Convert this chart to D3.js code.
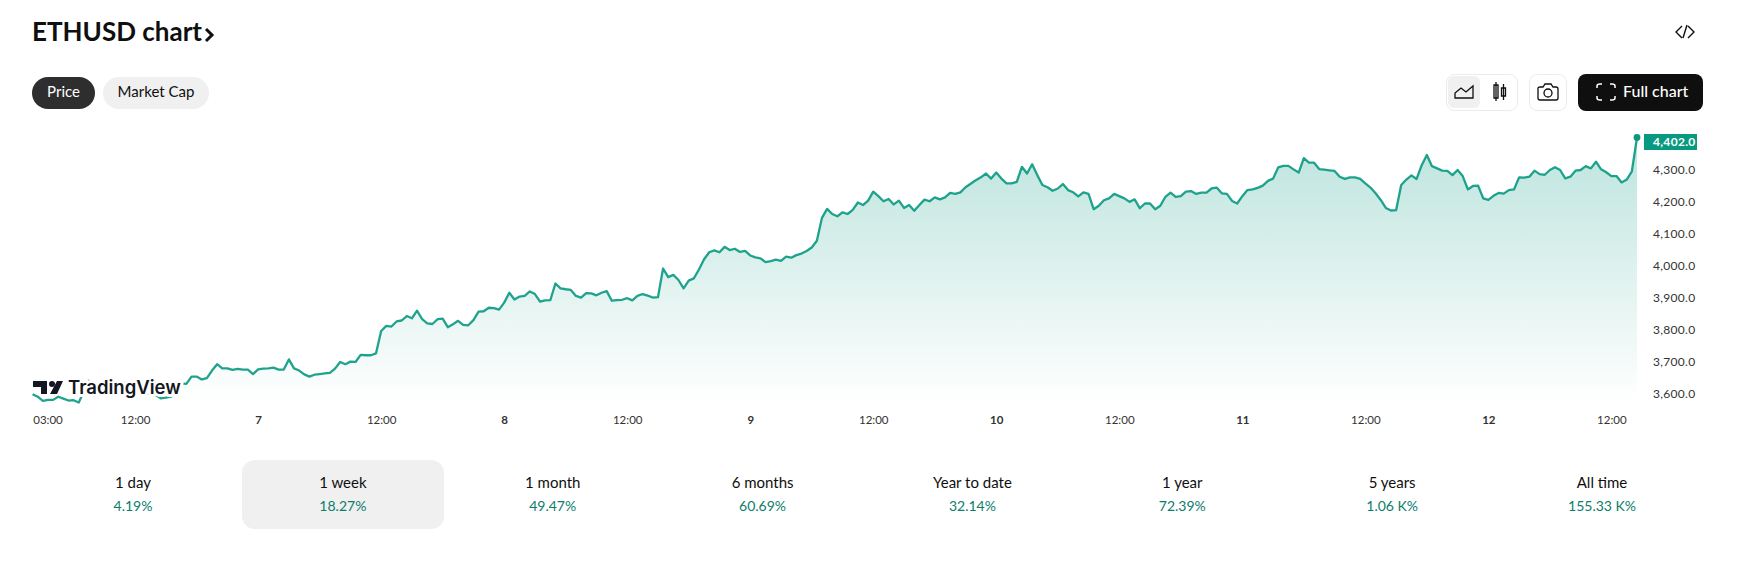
<!DOCTYPE html>
<html>
<head>
<meta charset="utf-8">
<script src="https://cdn.jsdelivr.net/npm/d3@7"></script>
<style>
  html, body { margin: 0; padding: 0; background: #fff; overflow: hidden; }
  svg { display: block; font-family: "Lato", sans-serif; }
</style>
</head>
<body>
<div id="chart"></div>
<script>
// half hour closes, first one is 6th 02:00
const prices = [
  3597, 3589, 3576, 3579, 3579, 3589, 3583, 3577, 3578, 3571,
  3605, 3639, 3629, 3622, 3625, 3618, 3621, 3616, 3632, 3622,
  3610, 3605, 3600, 3596, 3594, 3584, 3586, 3589, 3610, 3631,
  3629, 3652, 3652, 3643, 3647, 3671, 3691, 3678, 3678, 3673,
  3676, 3674, 3674, 3660, 3675, 3677, 3678, 3680, 3674, 3674,
  3706, 3678, 3671, 3659, 3652, 3658, 3660, 3662, 3664, 3677,
  3698, 3691, 3699, 3698, 3720, 3719, 3719, 3725, 3795, 3811,
  3809, 3825, 3828, 3842, 3835, 3859, 3832, 3819, 3817, 3832,
  3834, 3807, 3816, 3827, 3814, 3813, 3829, 3856, 3857, 3868,
  3867, 3862, 3884, 3915, 3894, 3903, 3905, 3919, 3911, 3887,
  3891, 3892, 3944, 3929, 3926, 3924, 3905, 3900, 3914, 3913,
  3907, 3915, 3920, 3890, 3892, 3893, 3898, 3891, 3905, 3911,
  3906, 3900, 3901, 3991, 3964, 3971, 3955, 3929, 3953, 3960,
  3988, 4020, 4042, 4048, 4042, 4059, 4049, 4053, 4043, 4046,
  4032, 4026, 4023, 4011, 4014, 4019, 4015, 4028, 4025, 4033,
  4038, 4046, 4057, 4078, 4150, 4178, 4162, 4155, 4167, 4162,
  4175, 4198, 4190, 4204, 4232, 4218, 4202, 4209, 4192, 4204,
  4181, 4190, 4172, 4190, 4207, 4202, 4214, 4208, 4214, 4228,
  4225, 4230, 4246, 4257, 4268, 4277, 4289, 4273, 4292, 4273,
  4258, 4258, 4263, 4310, 4289, 4318, 4284, 4253, 4246, 4235,
  4242, 4256, 4237, 4230, 4217, 4230, 4225, 4177, 4188, 4205,
  4211, 4225, 4218, 4211, 4200, 4208, 4180, 4195, 4195, 4177,
  4188, 4216, 4229, 4216, 4218, 4232, 4234, 4225, 4229, 4229,
  4242, 4245, 4227, 4225, 4203, 4195, 4218, 4237, 4239, 4244,
  4251, 4266, 4273, 4308, 4313, 4313, 4302, 4292, 4337, 4323,
  4323, 4303, 4301, 4299, 4297, 4279, 4272, 4277, 4277, 4272,
  4258, 4245, 4227, 4206, 4181, 4173, 4174, 4253, 4270, 4283,
  4272, 4315, 4347, 4312, 4305, 4298, 4297, 4284, 4300, 4281,
  4239, 4250, 4251, 4211, 4206, 4219, 4228, 4226, 4237, 4239,
  4277, 4276, 4279, 4298, 4287, 4285, 4300, 4309, 4300, 4274,
  4279, 4298, 4300, 4312, 4305, 4326, 4302, 4293, 4281, 4281,
  4261, 4270, 4296, 4402
];
const lastPrice = 4402;
const priceTicks = [3600, 3700, 3800, 3900, 4000, 4100, 4200, 4300];
const timeTicks = [
  new Date(2025, 7, 6, 3), new Date(2025, 7, 6, 12),
  new Date(2025, 7, 7, 0), new Date(2025, 7, 7, 12),
  new Date(2025, 7, 8, 0), new Date(2025, 7, 8, 12),
  new Date(2025, 7, 9, 0), new Date(2025, 7, 9, 12),
  new Date(2025, 7, 10, 0), new Date(2025, 7, 10, 12),
  new Date(2025, 7, 11, 0), new Date(2025, 7, 11, 12),
  new Date(2025, 7, 12, 0), new Date(2025, 7, 12, 12)
];
const periods = ["1 day", "1 week", "1 month", "6 months", "Year to date", "1 year", "5 years", "All time"];
const changes = ["4.19%", "18.27%", "49.47%", "60.69%", "32.14%", "72.39%", "1.06\u202FK%", "155.33\u202FK%"];

const width = 1747;
const height = 565;
const green = "#089981";
const startTime = new Date(2025, 7, 6, 2);
const halfHour = 30 * 60 * 1000;
const series = prices.map((p, i) => ({ time: new Date(+startTime + i * halfHour), price: p }));

const svg = d3.select("#chart")
    .append("svg")
    .attr("viewBox", `0 0 ${width} ${height}`)
    .attr("width", width)
    .attr("height", height);

const xScale = d3.scaleTime()
    .domain([startTime, series[series.length - 1].time])
    .range([32.6, 1637]);
const yScale = d3.scaleLinear()
    .domain([3600, 4300])
    .range([393.2, 170]);

// Gradient under the line
const gradient = svg.append("defs").append("linearGradient")
    .attr("id", "areaFill")
    .attr("gradientUnits", "userSpaceOnUse")
    .attr("x1", 0).attr("x2", 0)
    .attr("y1", 135).attr("y2", 402);
gradient.append("stop").attr("offset", 0).attr("stop-color", green).attr("stop-opacity", 0.27);
gradient.append("stop").attr("offset", 1).attr("stop-color", green).attr("stop-opacity", 0);

const area = d3.area()
    .x(d => xScale(d.time))
    .y0(402)
    .y1(d => yScale(d.price));
const line = d3.line()
    .x(d => xScale(d.time))
    .y(d => yScale(d.price));

svg.append("path")
    .datum(series)
    .attr("d", area)
    .attr("fill", "url(#areaFill)");
svg.append("path")
    .datum(series)
    .attr("d", line)
    .attr("fill", "none")
    .attr("stroke", green)
    .attr("stroke-opacity", 0.9)
    .attr("stroke-width", 2.3)
    .attr("stroke-linejoin", "round");
svg.append("circle")
    .attr("cx", xScale(series[series.length - 1].time))
    .attr("cy", yScale(lastPrice))
    .attr("r", 3.4)
    .attr("fill", green);

// Price axis
const yAxis = svg.append("g")
    .attr("transform", "translate(1649,0)")
    .call(d3.axisRight(yScale).tickValues(priceTicks).tickSize(0).tickPadding(4).tickFormat(d3.format(",.1f")));
yAxis.select(".domain").remove();
yAxis.selectAll("text")
    .attr("font-family", "Lato, sans-serif")
    .attr("font-size", 12)
    .attr("letter-spacing", 0.3)
    .attr("fill", "#333");

svg.append("rect")
    .attr("x", 1644).attr("y", 134)
    .attr("width", 53).attr("height", 16)
    .attr("fill", green);
svg.append("text")
    .attr("x", 1653).attr("y", 146)
    .attr("font-size", 12)
    .attr("font-weight", 700)
    .attr("letter-spacing", 0.3)
    .attr("fill", "#fff")
    .text(d3.format(",.1f")(lastPrice));

// Time axis
const xAxis = svg.append("g")
    .attr("transform", "translate(0,416)")
    .call(d3.axisBottom(xScale).tickValues(timeTicks).tickSize(0).tickPadding(0)
        .tickFormat(d => d.getHours() === 0 ? String(d.getDate()) : d3.timeFormat("%H:%M")(d)));
xAxis.select(".domain").remove();
xAxis.selectAll("text")
    .attr("font-family", "Lato, sans-serif")
    .attr("font-size", 11.5)
    .attr("dy", "0.71em")
    .attr("fill", "#333")
    .attr("font-weight", d => d.getHours() === 0 ? 700 : 400);
xAxis.selectAll("text").filter((d, i) => i === 0)
    .attr("text-anchor", "start")
    .attr("x", 32.7 - xScale(timeTicks[0]));

// TradingView watermark, sits on top of the line with a white halo
const logo = svg.append("g");
logo.append("path")
    .attr("d", "M33 381H47V394H41V387H33Z M57 381H63L57 394H50Z")
    .attr("fill", "#131722")
    .attr("stroke", "#fff")
    .attr("stroke-width", 3)
    .attr("paint-order", "stroke");
logo.append("circle")
    .attr("cx", 52).attr("cy", 384).attr("r", 3)
    .attr("fill", "#131722");
logo.append("text")
    .attr("x", 68).attr("y", 394)
    .attr("font-family", "Inter, sans-serif")
    .attr("font-size", 18.5)
    .attr("font-weight", 600)
    .attr("fill", "#131722")
    .attr("stroke", "#fff")
    .attr("stroke-width", 6)
    .attr("stroke-linejoin", "round")
    .attr("paint-order", "stroke")
    .text("TradingView");

// Header
svg.append("text")
    .attr("x", 32).attr("y", 41)
    .attr("font-size", 26)
    .attr("font-weight", 700)
    .attr("fill", "#0f0f0f")
    .text("ETHUSD chart");
svg.append("path")
    .attr("d", "M206 29L212 35L206 41")
    .attr("fill", "none")
    .attr("stroke", "#0f0f0f")
    .attr("stroke-width", 3);
svg.append("path")
    .attr("d", "M1682 26L1676 32L1682 38 M1687 25L1683 38 M1688 26L1694 32L1688 38")
    .attr("fill", "none")
    .attr("stroke", "#0f0f0f")
    .attr("stroke-width", 1.4);

function pill(x, w, fill, color, label) {
    svg.append("rect")
        .attr("x", x).attr("y", 77)
        .attr("width", w).attr("height", 32)
        .attr("rx", 16)
        .attr("fill", fill);
    svg.append("text")
        .attr("x", x + w / 2).attr("y", 97)
        .attr("text-anchor", "middle")
        .attr("font-size", 15)
        .attr("fill", color)
        .text(label);
}
pill(32, 63, "#2e2e2e", "#fff", "Price");
pill(103, 106, "#f0f0f0", "#0f0f0f", "Market Cap");

// Toolbar on the right
svg.append("rect")
    .attr("x", 1446.5).attr("y", 74.5).attr("width", 71).attr("height", 36)
    .attr("rx", 8).attr("fill", "#fff").attr("stroke", "#ebebeb");
svg.append("rect")
    .attr("x", 1448).attr("y", 76).attr("width", 32).attr("height", 32)
    .attr("rx", 6).attr("fill", "#f0f0f0");
svg.append("path")
    .attr("d", "M1455 98V93L1461 88L1466 92L1473 86V98Z")
    .attr("fill", "none").attr("stroke", "#0f0f0f").attr("stroke-width", 1.3);
svg.append("path")
    .attr("d", "M1496 82V101 M1494 85H1498V98H1494Z M1503.500 84V100 M1501.500 88H1505.500V96H1501.500Z")
    .attr("fill", "none").attr("stroke", "#0f0f0f").attr("stroke-width", 1.3);
svg.append("rect")
    .attr("x", 1529.5).attr("y", 74.5).attr("width", 37).attr("height", 36)
    .attr("rx", 8).attr("fill", "#fff").attr("stroke", "#ebebeb");
svg.append("path")
    .attr("d", "M1538 88Q1538 87 1540 87H1543L1545 84H1551L1553 87H1556Q1558 87 1558 89V98Q1558 100 1556 100H1540Q1538 100 1538 98Z")
    .attr("fill", "none").attr("stroke", "#0f0f0f").attr("stroke-width", 1.3);
svg.append("circle")
    .attr("cx", 1548).attr("cy", 93).attr("r", 4)
    .attr("fill", "none").attr("stroke", "#0f0f0f").attr("stroke-width", 1.3);
svg.append("rect")
    .attr("x", 1578).attr("y", 74).attr("width", 125).attr("height", 37)
    .attr("rx", 8).attr("fill", "#0f0f0f");
svg.append("path")
    .attr("d", "M1597 88V86Q1597 84 1600 84H1602 M1610 84H1612Q1615 84 1615 86V88 M1615 96V98Q1615 100 1612 100H1610 M1602 100H1600Q1597 100 1597 98V96")
    .attr("fill", "none").attr("stroke", "#fff").attr("stroke-width", 1.5);
svg.append("text")
    .attr("x", 1623).attr("y", 97)
    .attr("font-size", 16)
    .attr("font-weight", 500)
    .attr("fill", "#fff")
    .text("Full chart");

// Performance row under the chart
const periodX = d3.scalePoint()
    .domain(periods)
    .range([133, 1602]);

svg.append("rect")
    .attr("x", 242).attr("y", 460)
    .attr("width", 202).attr("height", 69)
    .attr("rx", 13)
    .attr("fill", "#f0f0f0");

svg.selectAll(".period")
    .data(periods)
    .join("text")
    .attr("class", "period")
    .attr("x", d => periodX(d))
    .attr("y", 488)
    .attr("text-anchor", "middle")
    .attr("font-size", 15)
    .attr("fill", "#0f0f0f")
    .text(d => d);

svg.selectAll(".change")
    .data(changes)
    .join("text")
    .attr("class", "change")
    .attr("x", (d, i) => periodX(periods[i]))
    .attr("y", 511)
    .attr("text-anchor", "middle")
    .attr("font-size", 14)
    .attr("fill", "#0b7d6b")
    .text(d => d);
</script>
</body>
</html>
